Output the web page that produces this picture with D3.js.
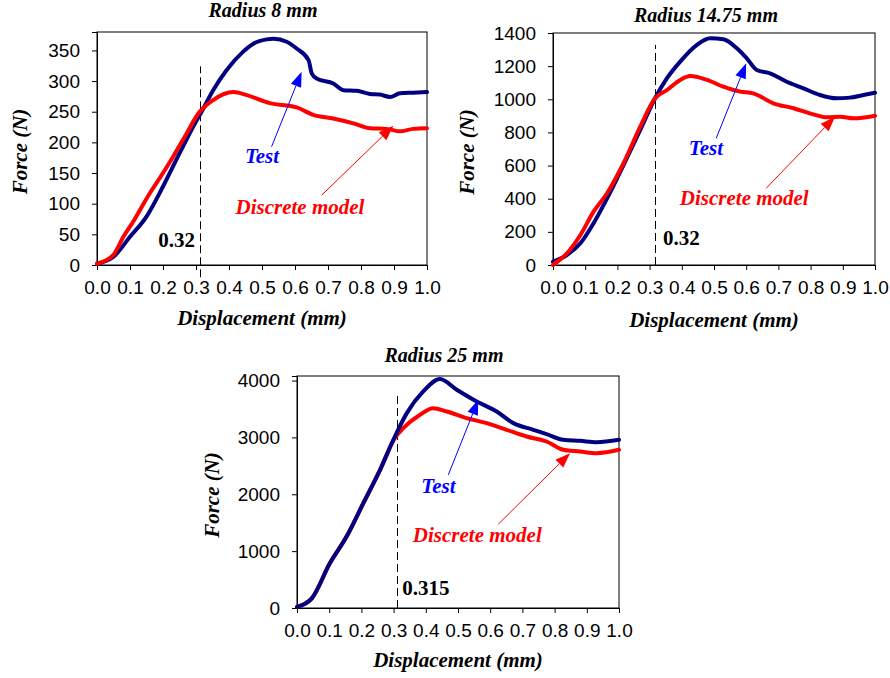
<!DOCTYPE html>
<html>
<head>
<meta charset="utf-8">
<script src="https://cdn.jsdelivr.net/npm/d3@7"></script>
<style>
  body { margin: 0; background: #fff; }
  svg { display: block; }
</style>
</head>
<body>
<div id="chart"></div>
<script>
// Force / displacement curves, test vs discrete model, three radii

const titles = ["Radius 8 mm", "Radius 14.75 mm", "Radius 25 mm"];
const xTicks = [0, 0.1, 0.2, 0.3, 0.4, 0.5, 0.6, 0.7, 0.8, 0.9, 1.0];

// Radius 8 mm
const r8Ticks = [0, 50, 100, 150, 200, 250, 300, 350];
const r8TestX = [0, 0.049, 0.1, 0.15, 0.2, 0.25, 0.302, 0.317, 0.352, 0.393, 0.443, 0.474, 0.514, 0.535, 0.575, 0.605, 0.641, 0.651, 0.666, 0.716, 0.747, 0.787, 0.827, 0.857, 0.888, 0.918, 0.958, 1.0];
const r8TestF = [2, 13, 46, 79, 128, 182, 236, 250, 285, 318, 348, 361, 368, 369, 364, 353, 334, 312, 304, 296, 285, 284, 279, 278, 274, 280, 281, 282];
const r8ModelX = [0, 0.049, 0.08, 0.11, 0.16, 0.2, 0.231, 0.272, 0.307, 0.352, 0.413, 0.454, 0.524, 0.605, 0.655, 0.716, 0.777, 0.827, 0.878, 0.918, 0.958, 1.0];
const r8ModelF = [2, 16, 46, 71, 117, 150, 177, 215, 247, 269, 282, 277, 264, 257, 245, 239, 231, 223, 222, 218, 222, 223];

// Radius 14.75 mm
const r14Ticks = [0, 200, 400, 600, 800, 1000, 1200, 1400];
const r14TestX = [0, 0.043, 0.085, 0.126, 0.168, 0.219, 0.271, 0.317, 0.354, 0.395, 0.447, 0.488, 0.529, 0.571, 0.602, 0.633, 0.674, 0.726, 0.778, 0.829, 0.881, 0.922, 0.964, 1.0];
const r14TestF = [20, 60, 131, 252, 402, 603, 815, 1006, 1127, 1227, 1328, 1368, 1362, 1308, 1247, 1177, 1157, 1106, 1066, 1026, 1006, 1010, 1026, 1040];
const r14ModelX = [0, 0.043, 0.085, 0.126, 0.168, 0.219, 0.271, 0.317, 0.354, 0.395, 0.426, 0.478, 0.529, 0.581, 0.622, 0.684, 0.747, 0.809, 0.85, 0.891, 0.933, 1.0];
const r14ModelF = [0, 70, 181, 322, 433, 614, 835, 1006, 1056, 1117, 1140, 1117, 1076, 1046, 1036, 976, 946, 909, 891, 895, 885, 901];

// Radius 25 mm
const r25Ticks = [0, 1000, 2000, 3000, 4000];
const r25TestX = [0, 0.046, 0.102, 0.154, 0.206, 0.258, 0.304, 0.341, 0.392, 0.444, 0.496, 0.558, 0.62, 0.672, 0.734, 0.775, 0.827, 0.879, 0.931, 1.0];
const r25TestF = [20, 170, 786, 1256, 1843, 2430, 3016, 3427, 3808, 4026, 3838, 3632, 3456, 3251, 3134, 3058, 2958, 2940, 2917, 2958];
const r25ModelX = [0, 0.046, 0.102, 0.154, 0.206, 0.258, 0.305, 0.33, 0.382, 0.423, 0.465, 0.527, 0.589, 0.651, 0.713, 0.775, 0.827, 0.879, 0.931, 1.0];
const r25ModelF = [20, 170, 786, 1256, 1843, 2430, 3000, 3163, 3398, 3515, 3456, 3339, 3251, 3134, 3016, 2928, 2782, 2752, 2723, 2782];

const W = 890, H = 678;
const serif = "'Liberation Serif', 'Times New Roman', serif";
const sans = "'Liberation Sans', Arial, sans-serif";
const blue = "#000080", red = "#ff0000";

const panels = [
    { title: titles[0], left: 97, right: 427, top: 32, bottom: 265, yMax: 380, yTicks: r8Ticks,
      test: [r8TestX, r8TestF], model: [r8ModelX, r8ModelF], modelOnTop: true,
      titleX: 263, titleY: 17, xLabY: 325, yLabX: 27,
      mark: { x: 0.312, y0: -20, y1: 324, text: "0.32", tx: 0.297, ty: 29, anchor: "end" },
      testLab: [0.5, 166], testArrow: [[0.529, 193], [0.62, 315]],
      modelLab: [0.615, 83], modelArrow: [[0.681, 114], [0.898, 227]] },
    { title: titles[1], left: 553, right: 875, top: 33, bottom: 265, yMax: 1400, yTicks: r14Ticks,
      test: [r14TestX, r14TestF], model: [r14ModelX, r14ModelF], modelOnTop: true,
      titleX: 706, titleY: 22, xLabY: 327, yLabX: 474,
      mark: { x: 0.318, y0: 0, y1: 1328, text: "0.32", tx: 0.342, ty: 121, anchor: "start" },
      testLab: [0.475, 664], testArrow: [[0.507, 765], [0.6, 1217]],
      modelLab: [0.594, 362], modelArrow: [[0.662, 463], [0.876, 895]] },
    { title: titles[2], left: 297, right: 619, top: 376, bottom: 608, yMax: 4080, yTicks: r25Ticks,
      test: [r25TestX, r25TestF], model: [r25ModelX, r25ModelF], modelOnTop: false,
      titleX: 444, titleY: 362, xLabY: 667, yLabX: 219,
      mark: { x: 0.31, y0: 0, y1: 3730, text: "0.315", tx: 0.327, ty: 229, anchor: "start" },
      testLab: [0.439, 2030], testArrow: [[0.47, 2342], [0.563, 3662]],
      modelLab: [0.56, 1167], modelArrow: [[0.625, 1473], [0.848, 2723]] }
];

const svg = d3.select("#chart").append("svg")
    .attr("width", W)
    .attr("height", H);

function arrow(g, x, y, pts, color) {
    const [x0, y0] = [x(pts[0][0]), y(pts[0][1])];
    const [x1, y1] = [x(pts[1][0]), y(pts[1][1])];
    const ang = Math.atan2(y1 - y0, x1 - x0);
    const len = 15, half = 5.5;
    const bx = x1 - len * Math.cos(ang), by = y1 - len * Math.sin(ang);
    g.append("line")
        .attr("x1", x0).attr("y1", y0)
        .attr("x2", bx).attr("y2", by)
        .attr("stroke", color).attr("stroke-width", 1);
    g.append("path")
        .attr("d", `M${x1},${y1}L${bx - half * Math.sin(ang)},${by + half * Math.cos(ang)}L${bx + half * Math.sin(ang)},${by - half * Math.cos(ang)}Z`)
        .attr("fill", color);
}

panels.forEach(p => {
    const x = d3.scaleLinear().domain([0, 1]).range([p.left, p.right]);
    const y = d3.scaleLinear().domain([0, p.yMax]).range([p.bottom, p.top]);
    const g = svg.append("g");

    // frame
    g.append("rect")
        .attr("x", p.left).attr("y", p.top)
        .attr("width", p.right - p.left).attr("height", p.bottom - p.top)
        .attr("fill", "none").attr("stroke", "#000").attr("stroke-width", 1);

    const xAxis = g.append("g")
        .attr("transform", `translate(0,${p.bottom})`)
        .call(d3.axisBottom(x).tickValues(xTicks).tickFormat(d3.format(".1f")).tickSize(5).tickPadding(11));
    const yAxis = g.append("g")
        .attr("transform", `translate(${p.left},0)`)
        .call(d3.axisLeft(y).tickValues(p.yTicks).tickFormat(d3.format("d")).tickSize(5).tickPadding(12));
    [xAxis, yAxis].forEach(a => {
        a.select(".domain").attr("stroke", "#000");
        a.selectAll("line").attr("stroke", "#000");
        a.selectAll("text").attr("font-family", sans).attr("font-size", 19).attr("fill", "#000");
    });

    // dashed marker
    const mx = Math.round(x(p.mark.x)) + 0.5;
    g.append("line")
        .attr("x1", mx).attr("x2", mx)
        .attr("y1", y(p.mark.y0)).attr("y2", y(p.mark.y1))
        .attr("stroke", "#000").attr("stroke-width", 1)
        .attr("stroke-dasharray", "8,4");

    const line = d3.line()
        .curve(d3.curveMonotoneX)
        .x(d => x(d[0]))
        .y(d => y(d[1]));

    const series = [
        { pts: d3.zip(p.test[0], p.test[1]), color: blue },
        { pts: d3.zip(p.model[0], p.model[1]), color: red }
    ];
    if (!p.modelOnTop) series.reverse();
    series.forEach(s => {
        g.append("path")
            .datum(s.pts)
            .attr("d", line)
            .attr("fill", "none")
            .attr("stroke", s.color)
            .attr("stroke-width", 4)
            .attr("stroke-linejoin", "round")
            .attr("stroke-linecap", "round");
    });

    // annotations
    arrow(g, x, y, p.testArrow, "#0000ff");
    arrow(g, x, y, p.modelArrow, red);

    g.append("text")
        .attr("x", x(p.testLab[0])).attr("y", y(p.testLab[1]))
        .attr("text-anchor", "middle")
        .attr("font-family", serif).attr("font-size", 21)
        .attr("font-weight", "bold").attr("font-style", "italic")
        .attr("fill", "#0000ff")
        .text("Test");
    g.append("text")
        .attr("x", x(p.modelLab[0])).attr("y", y(p.modelLab[1]))
        .attr("text-anchor", "middle")
        .attr("font-family", serif).attr("font-size", 21)
        .attr("font-weight", "bold").attr("font-style", "italic")
        .attr("fill", red)
        .text("Discrete model");
    g.append("text")
        .attr("x", x(p.mark.tx)).attr("y", y(p.mark.ty))
        .attr("text-anchor", p.mark.anchor)
        .attr("font-family", serif).attr("font-size", 21)
        .attr("font-weight", "bold")
        .attr("fill", "#000")
        .text(p.mark.text);

    // titles
    g.append("text")
        .attr("x", p.titleX).attr("y", p.titleY)
        .attr("text-anchor", "middle")
        .attr("font-family", serif).attr("font-size", 20)
        .attr("font-weight", "bold").attr("font-style", "italic")
        .text(p.title);
    g.append("text")
        .attr("x", (p.left + p.right) / 2).attr("y", p.xLabY)
        .attr("text-anchor", "middle")
        .attr("font-family", serif).attr("font-size", 21)
        .attr("font-weight", "bold").attr("font-style", "italic")
        .text("Displacement (mm)");
    g.append("text")
        .attr("transform", `translate(${p.yLabX},${(p.top + p.bottom) / 2 + 3}) rotate(-90)`)
        .attr("text-anchor", "middle")
        .attr("font-family", serif).attr("font-size", 21)
        .attr("font-weight", "bold").attr("font-style", "italic")
        .text("Force (N)");
});
</script>
</body>
</html>
